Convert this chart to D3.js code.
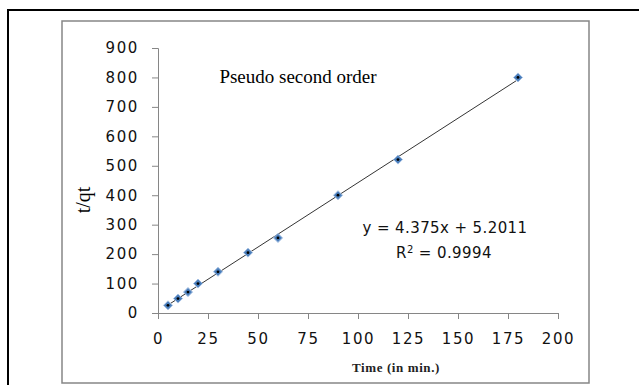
<!DOCTYPE html>
<html>
<head>
<meta charset="utf-8">
<script src="https://cdn.jsdelivr.net/npm/d3@7"></script>
<style>
  body { margin: 0; background: #fff; }
  svg { display: block; }
</style>
</head>
<body>
<div id="chart"></div>
<script>

// data
var times = [5, 10, 15, 20, 30, 45, 60, 90, 120, 180];
var tqt = [26, 49, 71, 100, 140, 205, 255, 400, 521, 800];
var xTicks = [0, 25, 50, 75, 100, 125, 150, 175, 200];
var yTicks = [0, 100, 200, 300, 400, 500, 600, 700, 800, 900];
var slope = 4.375, intercept = 5.2011;
var eqText = "y = 4.375x + 5.2011";
var r2Text = "0.9994";

var W = 639, H = 385;
var margin = { top: 48, right: 81, bottom: 72, left: 158 },
    width = W - margin.left - margin.right,
    height = H - margin.top - margin.bottom;

var sansFont = "'DejaVu Sans', sans-serif";
var serifFont = "'Liberation Serif', serif";

var svg = d3.select("#chart")
    .append("svg")
    .attr("width", W)
    .attr("height", H);

// outer black frame (runs off the right and bottom)
svg.append("path")
    .attr("d", "M8,390 L8,10 L645,10")
    .attr("fill", "none")
    .attr("stroke", "#000")
    .attr("stroke-width", 2);

// chart area frame
svg.append("rect")
    .attr("x", 62).attr("y", 21)
    .attr("width", 527).attr("height", 362)
    .attr("fill", "none")
    .attr("stroke", "#868686")
    .attr("stroke-width", 1.5);

var g = svg.append("g")
    .attr("transform", "translate(" + margin.left + "," + margin.top + ")");

var x = d3.scaleLinear().domain([0, 200]).range([0, width]);
var y = d3.scaleLinear().domain([0, 900]).range([height, 0]);

// x axis
var xAxis = g.append("g")
    .attr("transform", "translate(0," + height + ")")
    .call(d3.axisBottom(x).tickValues(xTicks).tickSizeOuter(0).tickSize(6).tickPadding(14));

// y axis
var yAxis = g.append("g")
    .call(d3.axisLeft(y).tickValues(yTicks).tickSizeOuter(0).tickSize(6).tickPadding(13));

[xAxis, yAxis].forEach(function (a) {
    a.select(".domain").attr("stroke", "#868686");
    a.selectAll(".tick line").attr("stroke", "#868686");
    a.selectAll(".tick text")
        .attr("fill", "#111")
        .style("font-family", sansFont)
        .style("font-size", "15px")
        .style("letter-spacing", "1.6px");
});

// trend line
g.append("line")
    .attr("x1", x(times[0])).attr("y1", y(slope * times[0] + intercept))
    .attr("x2", x(times[times.length - 1])).attr("y2", y(slope * times[times.length - 1] + intercept))
    .attr("stroke", "#000")
    .attr("stroke-width", 0.8);

// markers
g.selectAll(".pt")
    .data(times)
    .join("path")
    .attr("class", "pt")
    .attr("transform", function (d, i) { return "translate(" + x(d) + "," + y(tqt[i]) + ")"; })
    .attr("d", "M0,-4.5L4.5,0L0,4.5L-4.5,0Z")
    .attr("fill", "#4a7ebb")
    .attr("stroke", "#a3bfe3")
    .attr("stroke-width", 1);

g.selectAll(".dot")
    .data(times)
    .join("circle")
    .attr("class", "dot")
    .attr("cx", function (d) { return x(d); })
    .attr("cy", function (d, i) { return y(tqt[i]); })
    .attr("r", 1.4)
    .attr("fill", "#000");

// title
svg.append("text")
    .attr("x", 298).attr("y", 83)
    .attr("text-anchor", "middle")
    .style("font-family", serifFont)
    .style("font-size", "19px")
    .text("Pseudo second order");

// equation
svg.append("text")
    .attr("x", 445).attr("y", 233)
    .attr("text-anchor", "middle")
    .style("font-family", sansFont)
    .style("font-size", "15px")
    .style("letter-spacing", "0.4px")
    .attr("fill", "#111")
    .text(eqText);

var r2 = svg.append("text")
    .attr("x", 444).attr("y", 258)
    .attr("text-anchor", "middle")
    .style("font-family", sansFont)
    .style("font-size", "15px")
    .style("letter-spacing", "0.4px")
    .attr("fill", "#111");
r2.append("tspan").text("R");
r2.append("tspan").attr("dy", -5).style("font-size", "10px").text("2");
r2.append("tspan").attr("dy", 5).text(" = " + r2Text);

// axis titles
svg.append("text")
    .attr("transform", "translate(90,200) rotate(-90)")
    .attr("text-anchor", "middle")
    .style("font-family", serifFont)
    .style("font-size", "20px")
    .text("t/qt");

svg.append("text")
    .attr("x", 396).attr("y", 372)
    .attr("text-anchor", "middle")
    .style("font-family", serifFont)
    .style("font-size", "13px")
    .style("font-weight", "bold")
    .style("letter-spacing", "0.6px")
    .attr("fill", "#222")
    .text("Time (in min.)");

</script>
</body>
</html>
